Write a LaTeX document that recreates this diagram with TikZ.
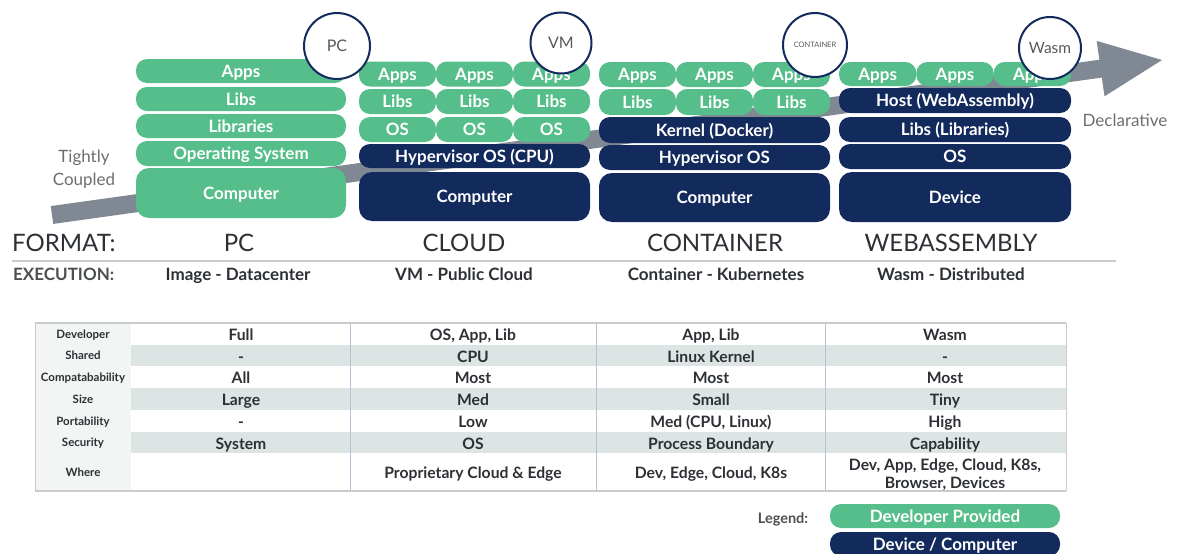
\documentclass[tikz,border=0pt]{standalone}
\usepackage{fontspec}
\setmainfont{Lato}
\definecolor{devgreen}{RGB}{85,190,139}
\definecolor{navy}{RGB}{19,42,92}
\definecolor{band}{RGB}{128,137,147}
\definecolor{txtgray}{RGB}{110,110,110}
\definecolor{dark}{RGB}{45,48,52}
\definecolor{rowshade}{RGB}{221,228,228}
\definecolor{labelbg}{RGB}{243,244,244}
\definecolor{rule}{RGB}{200,204,204}
\definecolor{vsep}{RGB}{176,196,212}
\newcommand{\fs}[1]{\fontsize{#1}{#1}\selectfont}
\tikzset{
  layer/.style={inner sep=0pt, outer sep=0pt, text=white, font=\bfseries\fs{17},
    text height=12pt, text depth=0pt,
    rounded corners=11pt, minimum height=24pt},
  gbox/.style={layer, fill=devgreen},
  nbox/.style={layer, fill=navy},
  ring/.style={circle, draw=navy, line width=2pt, fill=white, inner sep=0pt,
    text=dark!80, font=\fs{16}},
  hdr/.style={font=\fs{24}, text=dark, inner sep=0pt},
  exe/.style={font=\bfseries\fs{17}, text=dark, inner sep=0pt, text height=12pt, text depth=0pt},
  rowlbl/.style={font=\bfseries\fs{11.5}, text=dark, inner sep=0pt, text height=8pt, text depth=0pt},
  cellbase/.style={font=\bfseries\fs{15.7}, text=dark, inner sep=0pt, align=center},
  cell/.style={cellbase, text height=11pt, text depth=0pt},
  side/.style={font=\fs{17}, text=txtgray, inner sep=0pt, align=center}
}
\begin{document}
\begin{tikzpicture}[x=1pt,y=-1pt]
\useasboundingbox (0,0) rectangle (1178,554);
% ---- trend arrow ----
\coordinate (bandA) at (52,215);
\coordinate (bandB) at (1101,68.6);
\coordinate (tip) at (1162,60);
\draw[band, line width=18pt] (bandA) -- (bandB);
\fill[band] (1096.7,40.9) -- (tip) -- (1104.5,96.3) -- cycle;
\node[side] (tight) at (84,169) {Tightly\\[6pt]Coupled};
\node[side] (decl) at (1125,120) {Declarative};
% ---- PC column ----
\node[gbox, minimum width=210pt] (pcApps) at (241,71) {Apps};
\node[gbox, minimum width=210pt] (pcLibs) at (241,99) {Libs};
\node[gbox, minimum width=210pt] (pcLibr) at (241,126) {Libraries};
\node[gbox, minimum width=210pt, minimum height=25pt] (pcOS) at (241,153.5) {Operating System};
\node[gbox, minimum width=210pt, minimum height=50pt, rounded corners=13pt] (pcComp) at (241,193) {Computer};
% ---- Cloud column ----
\foreach \cx [count=\i] in {397.5,474.5,551.5}{
  \node[gbox, minimum width=77pt, minimum height=25pt] (vmApps\i) at (\cx,74) {Apps};
  \node[gbox, minimum width=77pt, minimum height=25pt] (vmLibs\i) at (\cx,101.5) {Libs};
  \node[gbox, minimum width=77pt, minimum height=25pt] (vmOS\i) at (\cx,129.5) {OS};
}
\node[nbox, minimum width=231pt] (vmHyp) at (474.5,156) {Hypervisor OS (CPU)};
\node[nbox, minimum width=231pt, minimum height=49pt, rounded corners=13pt] (vmComp) at (474.5,196.5) {Computer};
% ---- Container column ----
\foreach \cx [count=\i] in {637.5,714.5,791.5}{
  \node[gbox, minimum width=77pt, minimum height=25pt] (ctApps\i) at (\cx,74.5) {Apps};
  \node[gbox, minimum width=77pt, minimum height=26pt] (ctLibs\i) at (\cx,102) {Libs};
}
\node[nbox, minimum width=231pt, minimum height=26pt] (ctKern) at (714.5,130) {Kernel (Docker)};
\node[nbox, minimum width=231pt, minimum height=25pt] (ctHyp) at (714.5,157.5) {Hypervisor OS};
\node[nbox, minimum width=231pt, minimum height=49pt, rounded corners=13pt] (ctComp) at (714.5,197.5) {Computer};
% ---- Wasm column ----
\foreach \cx [count=\i] in {877.7,955,1032.3}{
  \node[gbox, minimum width=77.3pt] (waApps\i) at (\cx,74) {Apps};
}
\node[nbox, minimum width=232pt, minimum height=25pt] (waHost) at (955,100.5) {Host (WebAssembly)};
\node[nbox, minimum width=232pt, minimum height=25pt] (waLibs) at (955,129.5) {Libs (Libraries)};
\node[nbox, minimum width=232pt, minimum height=25pt] (waOS) at (955,156.5) {OS};
\node[nbox, minimum width=232pt, minimum height=50pt, rounded corners=13pt] (waDev) at (955,197) {Device};
% ---- circles ----
\node[ring, minimum size=66pt] (cPC) at (337,46) {PC};
\node[ring, minimum size=61pt] (cVM) at (561,43) {VM};
\node[ring, minimum size=64pt, font=\fs{7.5}] (cCT) at (815,45) {CONTAINER};
\node[ring, minimum size=62pt, font=\fs{15.5}] (cWA) at (1050,48) {Wasm};
% ---- format / execution ----
\node[hdr, anchor=west] (fmt) at (12,243) {FORMAT:};
\node[hdr] (fPC) at (239,243) {PC};
\node[hdr] (fCL) at (464,243) {CLOUD};
\node[hdr] (fCT) at (715,243) {CONTAINER};
\node[hdr] (fWA) at (951,243) {WEBASSEMBLY};
\draw[rule, line width=1.5pt] (12,261) -- (1116,261);
\node[exe, anchor=west, text=dark!85] (exl) at (13,274) {EXECUTION:};
\node[exe] (ePC) at (238,274) {Image - Datacenter};
\node[exe] (eCL) at (464,274) {VM - Public Cloud};
\node[exe] (eCT) at (716,274) {Container - Kubernetes};
\node[exe] (eWA) at (951,274) {Wasm - Distributed};
% ---- table ----
\fill[labelbg] (35,323) rectangle (131,491);
\foreach \ya/\yb in {345/366,388/410,432/453}{
  \fill[rowshade] (131,\ya) rectangle (1066,\yb);
}
\foreach \xx in {350,596,825}{
  \draw[vsep, line width=0.8pt] (\xx,323) -- (\xx,491);
}
\draw[rule, line width=0.8pt] (35,323) -- (35,491);
\draw[rule, line width=0.8pt] (1066,323) -- (1066,491);
\draw[rule, line width=2pt] (35,323) -- (1066,323);
\draw[rule, line width=2pt] (35,491) -- (1066,491);
\foreach \lbl/\yy [count=\r] in {Developer/334, Shared/355.5, Compatabability/377, Size/399, Portability/421, Security/442.5, Where/472}{
  \node[rowlbl] (rl\r) at (83,\yy) {\lbl};
}
% PC values
\node[cell] (p1) at (241,335) {Full};
\node[cell] (p2) at (241,356.5) {-};
\node[cell] (p3) at (241,378) {All};
\node[cell] (p4) at (241,400) {Large};
\node[cell] (p5) at (241,422) {-};
\node[cell] (p6) at (241,443.5) {System};
% Cloud values
\node[cell] (v1) at (473,335) {OS, App, Lib};
\node[cell] (v2) at (473,356.5) {CPU};
\node[cell] (v3) at (473,378) {Most};
\node[cell] (v4) at (473,400) {Med};
\node[cell] (v5) at (473,422) {Low};
\node[cell] (v6) at (473,443.5) {OS};
\node[cell] (v7) at (473,473) {Proprietary Cloud \& Edge};
% Container values
\node[cell] (k1) at (711,335) {App, Lib};
\node[cell] (k2) at (711,356.5) {Linux Kernel};
\node[cell] (k3) at (711,378) {Most};
\node[cell] (k4) at (711,400) {Small};
\node[cell] (k5) at (711,422) {Med (CPU, Linux)};
\node[cell] (k6) at (711,443.5) {Process Boundary};
\node[cell] (k7) at (711,473) {Dev, Edge, Cloud, K8s};
% Wasm values
\node[cell] (w1) at (945,335) {Wasm};
\node[cell] (w2) at (945,356.5) {-};
\node[cell] (w3) at (945,378) {Most};
\node[cell] (w4) at (945,400) {Tiny};
\node[cell] (w5) at (945,422) {High};
\node[cell] (w6) at (945,443.5) {Capability};
\node[cellbase] (w7) at (945,474.5) {Dev, App, Edge, Cloud, K8s,\\[2pt]Browser, Devices};
% ---- legend ----
\node[exe, font=\bfseries\fs{14.5}, text=dark!85, text height=10pt] (leg) at (783,518) {Legend:};
\node[gbox, minimum width=230pt, minimum height=24pt] (legG) at (945,516) {Developer Provided};
\node[gbox, fill=navy, minimum width=230pt, minimum height=24pt] (legN) at (945,544) {Device / Computer};
\end{tikzpicture}
\end{document}
